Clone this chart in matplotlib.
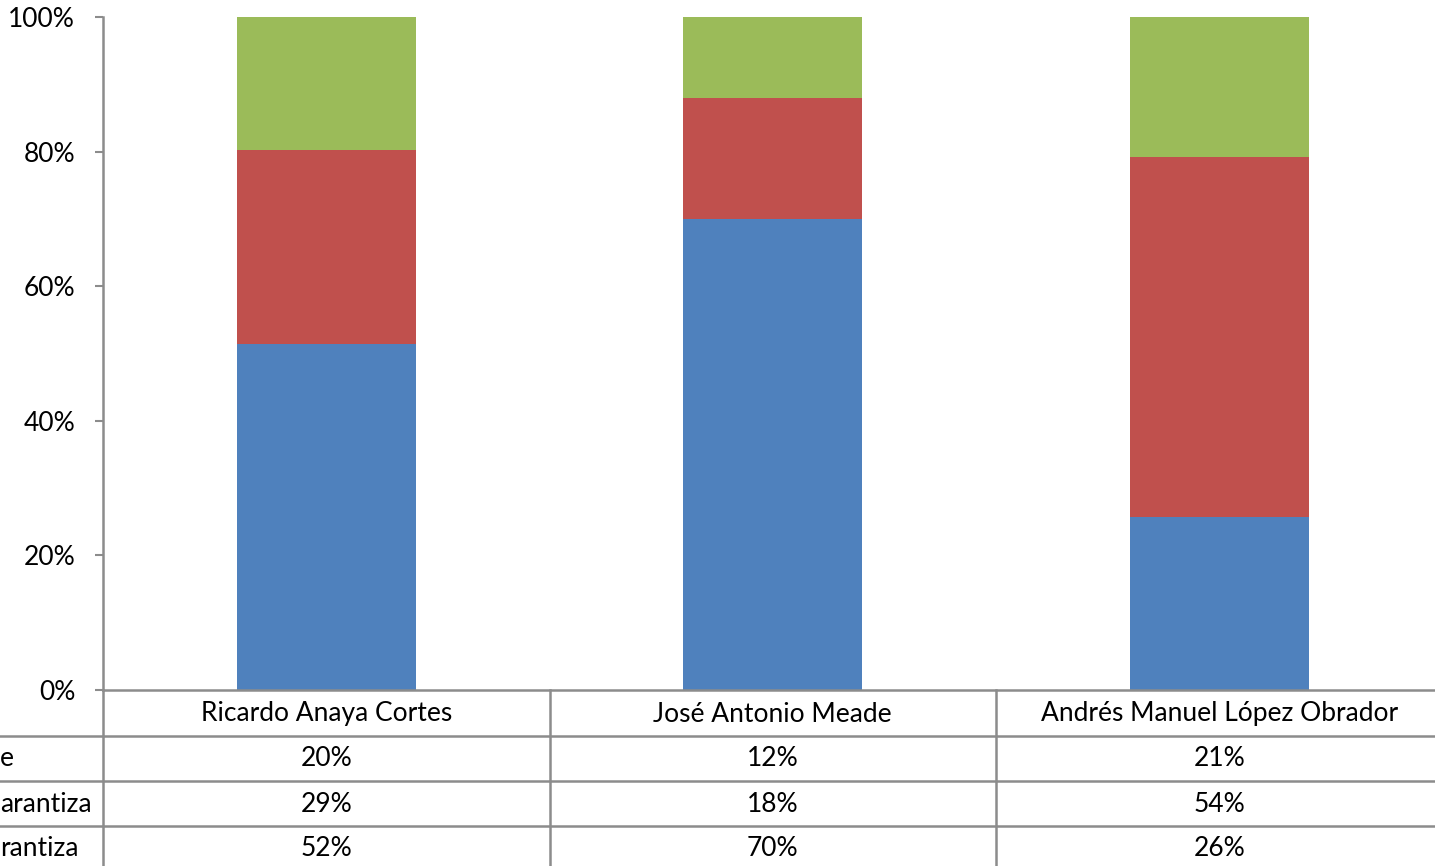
import numpy as np
import matplotlib
matplotlib.use("Agg")
from matplotlib import pyplot as plt
from matplotlib.lines import Line2D

plt.rcParams['font.family'] = ['Lato', 'DejaVu Sans']

candidatos = ["Ricardo Anaya Cortes", "José Antonio Meade", "Andrés Manuel López Obrador"]
# row labels of the data table, cut off at the left edge in the source picture
etiquetas = ["e", "arantiza", "rantiza"]
no_sabe = [20, 12, 21]
no_garantiza = [29, 18, 54]
garantiza = [52, 70, 26]
colores = ["#4F81BD", "#C0504D", "#9BBB59"]   # garantiza, no garantiza, no sabe

W, H = 1435, 866
fs = 19
fig = plt.figure(figsize=(W / 100, H / 100), dpi=100)
x0, ytop, ybot = 103, 17, 690
col_w = 446.5
x1 = x0 + col_w * len(candidatos)
ax = fig.add_axes([x0 / W, (H - ybot) / H, (x1 - x0) / W, (ybot - ytop) / H])

vals = np.array([garantiza, no_garantiza, no_sabe], dtype=float)
frac = vals / vals.sum(axis=0)
x = np.arange(len(candidatos))
bottom = np.zeros(len(candidatos))
for f, c in zip(frac, colores):
    ax.bar(x, f, 0.4, bottom=bottom, color=c, zorder=2)
    bottom += f

ax.set_xlim(-0.5, len(candidatos) - 0.5)
ax.set_ylim(0, 1)
yt = np.arange(0, 1.01, 0.2)
ax.set_yticks(yt)
ax.set_yticklabels(["%d%%" % round(v * 100) for v in yt], fontsize=fs)
ax.set_xticks([])
gris = "#8C8C8C"
for s in ["top", "right"]:
    ax.spines[s].set_visible(False)
for s in ["left", "bottom"]:
    ax.spines[s].set_color(gris)
    ax.spines[s].set_linewidth(1.8)
ax.tick_params(axis="y", length=6, width=1.5, color=gris, pad=14)

# data table drawn by hand in figure pixels
row_h = 45
def fx(p):
    return p / W
def fy(p):
    return 1 - p / H

for i, c in enumerate(candidatos):
    fig.text(fx(x0 + col_w * (i + 0.5)), fy(ybot + 24), c, ha="center", va="center", fontsize=fs)
filas = [no_sabe, no_garantiza, garantiza]
for r, (lab, fila) in enumerate(zip(etiquetas, filas)):
    yc = ybot + 46 + row_h * r + 23
    fig.text(fx(0), fy(yc), lab, ha="left", va="center", fontsize=fs)
    for i, v in enumerate(fila):
        fig.text(fx(x0 + col_w * (i + 0.5)), fy(yc), "%d%%" % v, ha="center", va="center", fontsize=fs)

for yl in [ybot + 46 + row_h * r for r in range(3)]:
    fig.add_artist(Line2D([0, 1], [fy(yl), fy(yl)], color=gris, lw=1.8))
for i in range(len(candidatos)):
    xl = x0 + col_w * i
    fig.add_artist(Line2D([fx(xl), fx(xl)], [fy(ybot), 0], color=gris, lw=1.8))

fig.savefig("out.png", dpi=100)
